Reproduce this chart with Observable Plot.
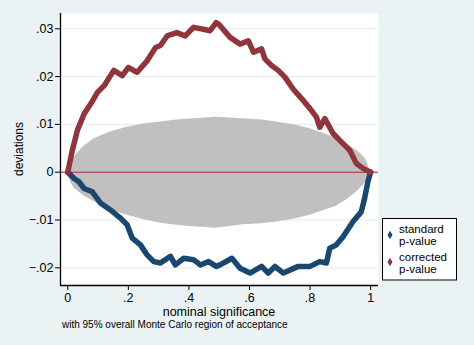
<!DOCTYPE html>
<html>
<head>
<meta charset="utf-8">
<script src="https://cdn.jsdelivr.net/npm/d3@7"></script>
<script src="https://cdn.jsdelivr.net/npm/@observablehq/plot@0.6"></script>
<style>
  html, body { margin: 0; padding: 0; background: #eaf2f3; }
  #chart { width: 474px; height: 345px; }
</style>
</head>
<body>
<div id="chart"></div>
<script>
// ---- data ----
const xTicks = [0, 0.2, 0.4, 0.6, 0.8, 1];
const yTicks = [-0.02, -0.01, 0, 0.01, 0.02, 0.03];
const xDomain = [-0.024, 1.026];
const yDomain = [-0.0237, 0.0332];

// corrected p-value (red)
const corrP = [0, .015, .032, .054, .076, .098, .12, .152, .18, .20, .229, .262, .29, .306, .328, .36, .388, .415, .448, .47, .49, .498, .536, .569, .596, .613, .64, .651, .673, .695, .717, .744, .772, .80, .821, .832, .849, .876, .904, .931, .953, .975, 1.0];
const corrD = [0, .0046, .0088, .0122, .0143, .0167, .0181, .0213, .0202, .0219, .0209, .0233, .0261, .0265, .0285, .0292, .0285, .0303, .0299, .0296, .0313, .031, .0282, .0268, .0275, .0251, .0258, .0237, .0223, .0213, .0199, .0174, .0154, .0133, .0115, .0094, .0112, .0081, .0063, .0046, .0018, .0008, 0];

// standard p-value (blue)
const stdP = [0, .021, .037, .054, .081, .109, .141, .174, .196, .213, .24, .262, .284, .306, .339, .355, .383, .415, .4375, .465, .49, .503, .542, .569, .602, .64, .662, .684, .712, .761, .80, .832, .854, .865, .887, .909, .942, .969, .98, .991, 1.0];
const stdD = [0, -.0013, -.002, -.0034, -.0041, -.0065, -.0079, -.0096, -.011, -.0138, -.0152, -.0173, -.0187, -.019, -.0176, -.0194, -.018, -.0183, -.0194, -.0187, -.0197, -.0194, -.018, -.0201, -.0211, -.0197, -.0211, -.0197, -.0211, -.0197, -.0197, -.0187, -.019, -.0159, -.0152, -.0135, -.0103, -.0083, -.0055, -.002, 0];

// Monte Carlo acceptance region (gray band)
const bandP  = [0, .01, .021, .05, .087, .14, .196, .25, .306, .36, .415, .49, .58, .64, .69, .75, .8, .85, .887, .92, .953, .975, .986, 1.0];
const bandHi = [0, .0022, .0032, .0052, .007, .0084, .0094, .0101, .0105, .0109, .0112, .0115, .0112, .0109, .0105, .0099, .0091, .008, .007, .0058, .0046, .0034, .0025, 0];
const bandLo = [0, -.0022, -.0033, -.0048, -.0062, -.0078, -.009, -.0099, -.0107, -.0111, -.0114, -.0117, -.011, -.0108, -.0104, -.0098, -.009, -.0079, -.0071, -.0058, -.0042, -.0028, -.0019, 0];

const seriesNames = ["standard", "corrected"];
const seriesColors = ["#1a476f", "#90353b"];

// ---- tables built from arrays ----
const corr = corrP.map((p, i) => ({p, d: corrD[i]}));
const std = stdP.map((p, i) => ({p, d: stdD[i]}));
const band = bandP.map((p, i) => ({p, hi: bandHi[i], lo: bandLo[i]}));

const fmt = v => v === 0 ? "0" : (Math.abs(v - 1) < 1e-9 ? "1" : d3.format(".2~f")(v).replace("0.", "."));

const plot = Plot.plot({
  width: 474, height: 345,
  marginLeft: 60, marginRight: 96, marginTop: 13, marginBottom: 60,
  x: {domain: xDomain},
  y: {domain: yDomain},
  style: {background: "transparent", fontFamily: "'Liberation Sans', Arial, sans-serif", fontSize: "12.5px", color: "#000"},
  marks: [
    Plot.frame({fill: "white", stroke: null}),
    Plot.gridY(yTicks, {stroke: "#e3ebee", strokeOpacity: 1}),
    Plot.areaY(band, {x: "p", y1: "lo", y2: "hi", fill: "#c0c0c0", curve: "linear"}),
    Plot.ruleY([0], {stroke: "#b3203c", strokeWidth: 1}),
    Plot.line(std, {x: "p", y: "d", stroke: seriesColors[0], strokeWidth: 5.5, strokeLinejoin: "round", strokeLinecap: "round"}),
    Plot.line(corr, {x: "p", y: "d", stroke: seriesColors[1], strokeWidth: 5.5, strokeLinejoin: "round", strokeLinecap: "round"}),
    Plot.axisY({ticks: yTicks, tickFormat: fmt, tickSize: 5, tickPadding: 2, label: null}),
    Plot.axisX({ticks: xTicks, tickFormat: fmt, tickSize: 5, tickPadding: 3, label: null}),
    Plot.ruleX([xDomain[0]], {stroke: "#000", strokeWidth: 1.3}),
    Plot.ruleY([yDomain[0]], {stroke: "#000", strokeWidth: 1.3})
  ]
});
document.getElementById("chart").appendChild(plot);

const svg = d3.select(plot);
const ff = "'Liberation Sans', Arial, sans-serif";
svg.append("text").attr("transform", "translate(19,149) rotate(-90)")
  .attr("text-anchor", "middle").attr("dy", "0.35em")
  .style("font-family", ff).style("font-size", "12px").attr("fill", "#000").text("deviations");
svg.append("text").attr("x", 219).attr("y", 316).attr("text-anchor", "middle")
  .style("font-family", ff).style("font-size", "12.5px").attr("fill", "#000").text("nominal significance");
svg.append("text").attr("x", 62).attr("y", 328).attr("text-anchor", "start")
  .style("font-family", ff).style("font-size", "10px").attr("fill", "#000").text("with 95% overall Monte Carlo region of acceptance");

// legend
const lg = svg.append("g");
lg.append("rect").attr("x", 382.5).attr("y", 218.5).attr("width", 74).attr("height", 61.5)
  .attr("fill", "white").attr("stroke", "#000").attr("stroke-width", 1);
seriesNames.forEach((name, i) => {
  const cy = 235 + i * 27;
  lg.append("path").attr("d", d3.symbol(d3.symbolDiamond, 22)()).attr("transform", `translate(390,${cy})`).attr("fill", seriesColors[i]);
  const t = lg.append("text").attr("text-anchor", "start").style("font-family", ff).style("font-size", "11.5px").attr("fill", "#000");
  t.append("tspan").attr("x", 399).attr("y", 232.5 + i * 28).text(name);
  t.append("tspan").attr("x", 399).attr("y", 244.5 + i * 28).text("p-value");
});
</script>
</body>
</html>
